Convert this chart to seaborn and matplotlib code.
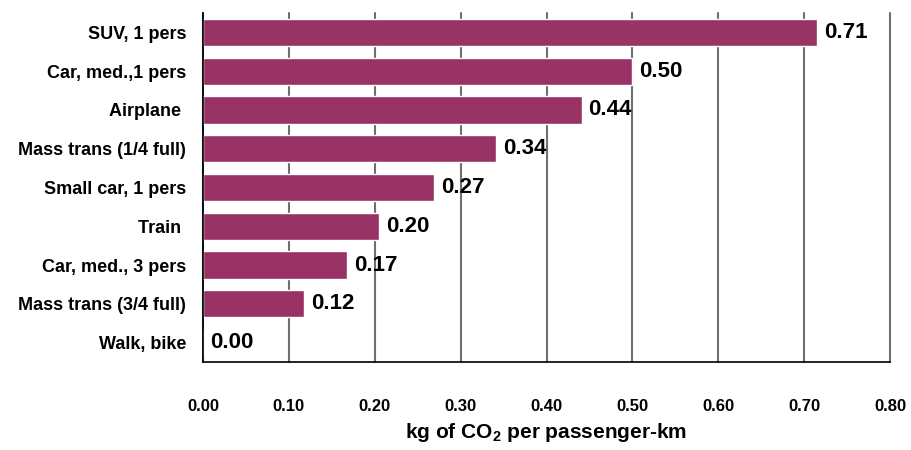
import matplotlib
matplotlib.use("Agg")
import matplotlib.pyplot as plt
from matplotlib.ticker import FixedLocator
import pandas as pd
import seaborn as sns

# data
modes = ["SUV, 1 pers", "Car, med.,1 pers", "Airplane ", "Mass trans (1/4 full)",
         "Small car, 1 pers", "Train ", "Car, med., 3 pers", "Mass trans (3/4 full)",
         "Walk, bike"]
co2 = [0.715, 0.50, 0.441, 0.341, 0.269, 0.205, 0.168, 0.118, 0.0]
value_labels = ["0.71", "0.50", "0.44", "0.34", "0.27", "0.20", "0.17", "0.12", "0.00"]

sns.set_style("white")
plt.rcParams["font.family"] = ["Liberation Sans", "DejaVu Sans"]
plt.rcParams["font.weight"] = "bold"
plt.rcParams["text.color"] = "black"
plt.rcParams["xtick.color"] = "black"
plt.rcParams["ytick.color"] = "black"
plt.rcParams["axes.labelcolor"] = "black"
plt.rcParams["mathtext.fontset"] = "custom"
plt.rcParams["mathtext.rm"] = "Liberation Sans:bold"
plt.rcParams["mathtext.bf"] = "Liberation Sans:bold"

df = pd.DataFrame({"mode": modes, "co2": co2})

fig = plt.figure(figsize=(9.11, 4.5), dpi=100)
ax = fig.add_axes([0.2228, 0.1956, 0.7542, 0.7755])

sns.barplot(data=df, x="co2", y="mode", orient="h", color="#993366",
            saturation=1, width=0.7, ax=ax, zorder=2)

ax.set_xlim(0, 0.8)
ax.set_ylim(len(modes) - 0.5, -0.5)
ax.set_xticks([i / 10 for i in range(9)])
ax.set_xticklabels([f"{i / 10:.2f}" for i in range(9)], fontsize=12, fontweight="bold")
ax.tick_params(axis="x", direction="out", length=5, width=1.2, color="black", pad=22)
ax.tick_params(axis="y", which="major", length=0, pad=12, labelsize=13)
ax.yaxis.set_minor_locator(FixedLocator([i - 0.5 for i in range(len(modes) + 1)]))
ax.tick_params(axis="y", which="minor", direction="out", length=5, width=1.2, color="black")
for lbl in ax.get_yticklabels():
    lbl.set_fontweight("bold")

ax.grid(axis="x", color="#6f6f6f", linewidth=1.5, zorder=0)
for gl in ax.get_xgridlines():
    gl.set_clip_on(False)
ax.set_axisbelow(True)
for side in ["top", "right"]:
    ax.spines[side].set_visible(False)
for side in ["left", "bottom"]:
    ax.spines[side].set_color("black")
    ax.spines[side].set_linewidth(1.2)
    ax.spines[side].set_zorder(3)

for i, (v, t) in enumerate(zip(co2, value_labels)):
    ax.text(v + 0.008, i, t, va="center", ha="left", fontsize=16, fontweight="bold")

ax.set_ylabel("")
ax.set_xlabel("kg of CO$_2$ per passenger-km", fontsize=15, fontweight="bold", labelpad=5)

fig.savefig("out.png", dpi=100)
